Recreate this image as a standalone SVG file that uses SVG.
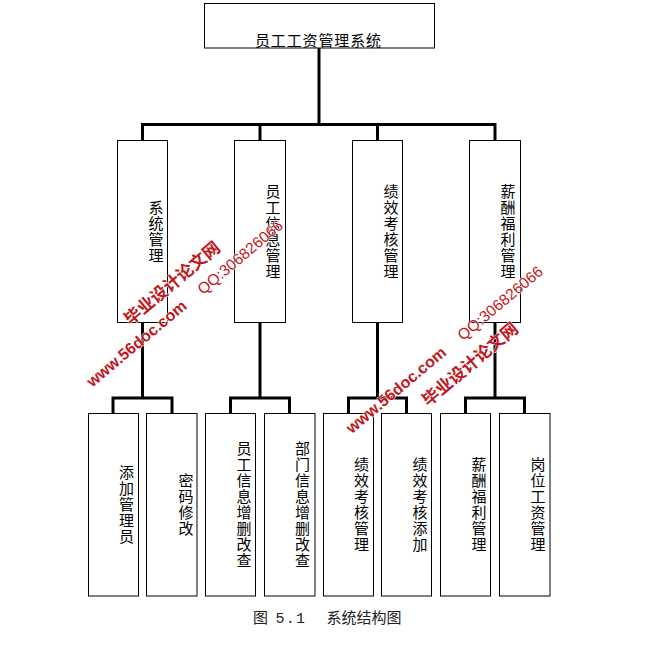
<svg xmlns="http://www.w3.org/2000/svg" width="645" height="670" viewBox="0 0 645 670">
<style>
.box{fill:#fff;stroke:#000;stroke-width:1}
.lbl{font-family:"Noto Sans CJK SC","Noto Sans CJK JP",sans-serif;font-size:15px;fill:#000;text-anchor:middle}
.conn{fill:none;stroke:#000;stroke-width:3;stroke-linecap:square}
.wm{fill:#c3161c;text-anchor:middle;dominant-baseline:central;stroke:#fff;stroke-width:1;paint-order:stroke}
.wcn{font-family:"Noto Sans CJK SC",sans-serif;font-weight:bold;font-size:17px}
.wen{font-family:"Liberation Sans",Arial,sans-serif;font-weight:bold;font-size:16px}
.wqq{font-family:"Liberation Sans",Arial,sans-serif;font-size:15.5px}
</style>
<rect width="645" height="670" fill="#fff"/>
<g id="connectors">
<path class="conn" d="M319,48 V124.5 M142.5,124.5 H495 M142.5,124.5 V140 M260,124.5 V140 M377.5,124.5 V140 M495,124.5 V140"/>
<path class="conn" d="M142.5,323 V398 M113,413 V398 H172 V413"/>
<path class="conn" d="M260,323 V398 M230.5,413 V398 H289.5 V413"/>
<path class="conn" d="M377.5,323 V398 M348.5,413 V398 H406.5 V413"/>
<path class="conn" d="M495,323 V398 M465.5,413 V398 H524.5 V413"/>
</g>
<g id="root">
<rect class="box" x="204.5" y="3.5" width="230" height="44.5"/>
<text class="lbl" x="255" y="46" textLength="126" lengthAdjust="spacing" style="text-anchor:start">员工工资管理系统</text>
</g>
<g id="n_sys">
<rect class="box" x="117.5" y="140.5" width="50" height="182"/>
<text class="lbl"><tspan x="156" y="212.5">系</tspan><tspan x="156" dy="16">统</tspan><tspan x="156" dy="16">管</tspan><tspan x="156" dy="16">理</tspan></text>
</g>
<g id="n_emp">
<rect class="box" x="234.5" y="140.5" width="51" height="182"/>
<text class="lbl"><tspan x="273" y="196.5">员</tspan><tspan x="273" dy="16">工</tspan><tspan x="273" dy="16">信</tspan><tspan x="273" dy="16">息</tspan><tspan x="273" dy="16">管</tspan><tspan x="273" dy="16">理</tspan></text>
</g>
<g id="n_perf">
<rect class="box" x="352.5" y="140.5" width="50" height="182"/>
<text class="lbl"><tspan x="391" y="196.5">绩</tspan><tspan x="391" dy="16">效</tspan><tspan x="391" dy="16">考</tspan><tspan x="391" dy="16">核</tspan><tspan x="391" dy="16">管</tspan><tspan x="391" dy="16">理</tspan></text>
</g>
<g id="n_pay">
<rect class="box" x="469.5" y="140.5" width="51" height="182"/>
<text class="lbl"><tspan x="508" y="196.5">薪</tspan><tspan x="508" dy="16">酬</tspan><tspan x="508" dy="16">福</tspan><tspan x="508" dy="16">利</tspan><tspan x="508" dy="16">管</tspan><tspan x="508" dy="16">理</tspan></text>
</g>
<g id="b_addadmin">
<rect class="box" x="88.5" y="413.5" width="50" height="182.5"/>
<text class="lbl"><tspan x="126.5" y="478">添</tspan><tspan x="126.5" dy="16">加</tspan><tspan x="126.5" dy="16">管</tspan><tspan x="126.5" dy="16">理</tspan><tspan x="126.5" dy="16">员</tspan></text>
</g>
<g id="b_pwd">
<rect class="box" x="146.5" y="413.5" width="50.5" height="182.5"/>
<text class="lbl"><tspan x="186" y="486">密</tspan><tspan x="186" dy="16">码</tspan><tspan x="186" dy="16">修</tspan><tspan x="186" dy="16">改</tspan></text>
</g>
<g id="b_empcrud">
<rect class="box" x="205.5" y="413.5" width="50" height="182.5"/>
<text class="lbl"><tspan x="244" y="454">员</tspan><tspan x="244" dy="16">工</tspan><tspan x="244" dy="16">信</tspan><tspan x="244" dy="16">息</tspan><tspan x="244" dy="16">增</tspan><tspan x="244" dy="16">删</tspan><tspan x="244" dy="16">改</tspan><tspan x="244" dy="16">查</tspan></text>
</g>
<g id="b_deptcrud">
<rect class="box" x="264.5" y="413.5" width="50.5" height="182.5"/>
<text class="lbl"><tspan x="302.5" y="454">部</tspan><tspan x="302.5" dy="16">门</tspan><tspan x="302.5" dy="16">信</tspan><tspan x="302.5" dy="16">息</tspan><tspan x="302.5" dy="16">增</tspan><tspan x="302.5" dy="16">删</tspan><tspan x="302.5" dy="16">改</tspan><tspan x="302.5" dy="16">查</tspan></text>
</g>
<g id="b_perfmgr">
<rect class="box" x="323.5" y="413.5" width="50" height="182.5"/>
<text class="lbl"><tspan x="361.5" y="470">绩</tspan><tspan x="361.5" dy="16">效</tspan><tspan x="361.5" dy="16">考</tspan><tspan x="361.5" dy="16">核</tspan><tspan x="361.5" dy="16">管</tspan><tspan x="361.5" dy="16">理</tspan></text>
</g>
<g id="b_perfadd">
<rect class="box" x="381.5" y="413.5" width="50" height="182.5"/>
<text class="lbl"><tspan x="420" y="470">绩</tspan><tspan x="420" dy="16">效</tspan><tspan x="420" dy="16">考</tspan><tspan x="420" dy="16">核</tspan><tspan x="420" dy="16">添</tspan><tspan x="420" dy="16">加</tspan></text>
</g>
<g id="b_paymgr">
<rect class="box" x="440.5" y="413.5" width="50" height="182.5"/>
<text class="lbl"><tspan x="479" y="470">薪</tspan><tspan x="479" dy="16">酬</tspan><tspan x="479" dy="16">福</tspan><tspan x="479" dy="16">利</tspan><tspan x="479" dy="16">管</tspan><tspan x="479" dy="16">理</tspan></text>
</g>
<g id="b_postpay">
<rect class="box" x="499.5" y="413.5" width="50.5" height="182.5"/>
<text class="lbl"><tspan x="538" y="470">岗</tspan><tspan x="538" dy="16">位</tspan><tspan x="538" dy="16">工</tspan><tspan x="538" dy="16">资</tspan><tspan x="538" dy="16">管</tspan><tspan x="538" dy="16">理</tspan></text>
</g>
<text id="caption" y="623" style="font-family:'Noto Sans CJK SC',sans-serif;font-size:15px;fill:#222"><tspan x="253">图</tspan><tspan x="275.5" style="font-family:'Liberation Mono',monospace" textLength="29.5" lengthAdjust="spacing">5.1</tspan><tspan x="326.5" textLength="75" lengthAdjust="spacing">系统结构图</tspan></text>
<g id="watermark1">
<text class="wm wcn" x="171" y="282" transform="rotate(-40 171 282)">毕业设计论文网</text>
<text class="wm wen" x="136.5" y="343.5" transform="rotate(-40 136.5 343.5)">www.56doc.com</text>
<text class="wm wqq" x="240" y="257" transform="rotate(-40 240 257)">QQ:306826066</text>
</g>
<g id="watermark2">
<text class="wm wen" x="396" y="390" transform="rotate(-40 396 390)">www.56doc.com</text>
<text class="wm wcn" x="469" y="363" transform="rotate(-40 469 363)">毕业设计论文网</text>
<text class="wm wqq" x="500" y="303" transform="rotate(-40 500 303)">QQ:306826066</text>
</g>
</svg>
